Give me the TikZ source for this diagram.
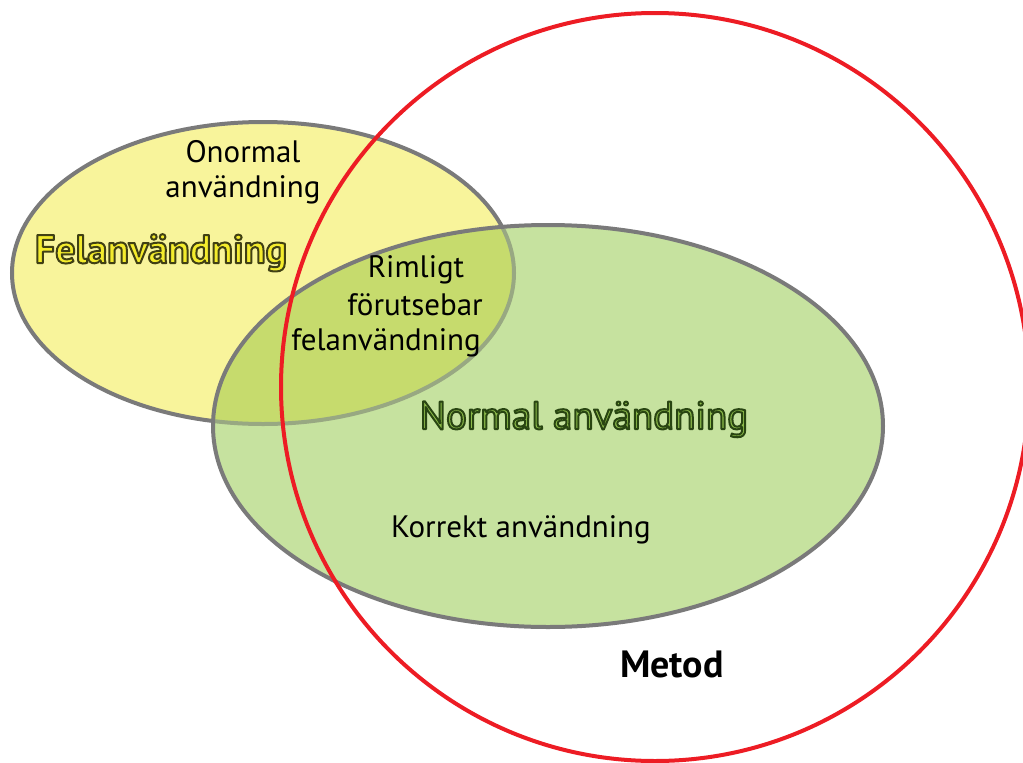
\documentclass[tikz,border=0pt]{standalone}
\usepackage{fontspec}
\setmainfont{PT Sans}
\definecolor{yfill}{HTML}{F8F49B}
\definecolor{gfill}{HTML}{C6E29F}
\definecolor{ovl}{HTML}{C6DB6D}
\definecolor{edge}{HTML}{7A7A7A}
\definecolor{edgein}{HTML}{98A882}
\definecolor{redc}{HTML}{ED1C24}
\definecolor{ytext}{HTML}{F4EC2C}
\definecolor{gtext}{HTML}{8DBB4A}
\newcommand\outlinedtext[3]{{\color{#1}\special{pdf:literal direct 2 Tr 2 w 1 j #2 RG}#3\special{pdf:literal direct 0 Tr}}}
\tikzset{
  border/.style={draw=edge, line width=4},
  lbl/.style={inner sep=0, anchor=base, font=\fontsize{31}{36}\selectfont, text=black},
}
\begin{document}
\begin{tikzpicture}[x=1pt,y=-1pt]
\useasboundingbox (0,0) rectangle (1023,763);
\coordinate (yc) at (263,273);
\coordinate (gc) at (548,426);
\coordinate (rc) at (655,387);
% yellow ellipse
\fill[yfill] (yc) ellipse [x radius=251, y radius=151];
\draw[border] (yc) ellipse [x radius=251, y radius=151];
% green ellipse
\fill[gfill] (gc) ellipse [x radius=335, y radius=201];
\begin{scope}
  \clip (yc) ellipse [x radius=251, y radius=151];
  \fill[ovl] (gc) ellipse [x radius=335, y radius=201];
\end{scope}
\begin{scope}
  \clip (gc) ellipse [x radius=335, y radius=201];
  \draw[draw=edgein, line width=4] (yc) ellipse [x radius=251, y radius=151];
\end{scope}
\draw[border] (gc) ellipse [x radius=335, y radius=201];
% red circle
\draw[draw=redc, line width=4] (rc) circle [radius=374];
% texts
\node[lbl] (on1) at (243,162) {Onormal};
\node[lbl] (on2) at (243,197) {användning};
\node[inner sep=0, anchor=base, font=\fontsize{40}{44}\selectfont\bfseries] (fel) at (161,263)
  {\outlinedtext{ytext}{0.25 0.25 0.08}{Felanvändning}};
\node[lbl] (r1) at (416,277) {Rimligt};
\node[lbl] (r2) at (415,315) {förutsebar};
\node[lbl] (r3) at (386,350) {felanvändning};
\node[inner sep=0, anchor=base, font=\fontsize{39}{44}\selectfont] (norm) at (584,429)
  {\outlinedtext{gtext}{0.16 0.27 0.07}{Normal användning}};
\node[lbl] (kor) at (521,537) {Korrekt användning};
\node[inner sep=0, anchor=base, font=\fontsize{38}{40}\selectfont\bfseries] (met) at (672,677) {Metod};
\end{tikzpicture}
\end{document}
